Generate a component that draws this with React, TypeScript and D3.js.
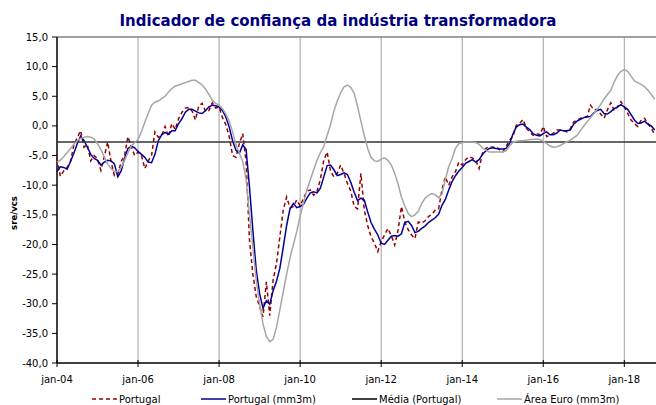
import React from "react";
import * as d3 from "d3";

const startYear = 2004;
const tickYears = [2004, 2006, 2008, 2010, 2012, 2014, 2016, 2018];
const yTicks = [15, 10, 5, 0, -5, -10, -15, -20, -25, -30, -35, -40];

const portugal = [
  -5.5, -8.5, -7.6, -7.0, -6.0, -3.2, -2.0, -0.8, -3.6, -3.2, -5.9, -5.0,
  -5.6, -7.5, -5.2, -2.7, -6.0, -8.4, -8.2, -6.0, -5.0, -1.8, -3.5, -5.0,
  -4.4, -5.0, -7.2, -5.9, -5.0, -1.0, -1.9, -1.6, -0.1, -1.8, 0.4, -0.6,
  1.2, 2.3, 3.0, 3.1, 2.5, 1.0, 3.4, 3.8, 2.4, 2.6, 3.9, 3.0,
  3.2, 1.4, 0.2, -1.8, -5.0, -5.3, -3.0, -1.3, -6.0, -19.3, -25.0, -28.8,
  -30.5, -32.2, -26.3, -32.0, -26.0, -23.2, -18.7, -14.2, -12.0, -13.8, -13.6, -12.5,
  -13.5, -12.2, -11.0, -10.8, -11.7, -11.0, -9.0, -5.8, -4.4, -7.6, -8.6, -8.0,
  -6.6, -8.0, -9.7, -11.0, -13.6, -14.0, -8.0, -14.2, -16.8, -18.7, -19.8, -21.2,
  -19.5, -18.4, -17.3, -18.5, -20.1, -17.6, -13.6, -16.2, -17.5, -18.4, -19.0, -16.2,
  -16.4, -16.0, -15.3, -14.9, -14.2, -14.0, -10.8, -8.6, -10.0, -8.6, -7.7, -6.1,
  -6.6, -5.7, -5.2, -5.4, -5.8, -7.2, -4.6, -3.8, -3.5, -3.6, -3.5, -4.0,
  -4.4, -3.5, -2.4, -1.8, 0.1, 0.4, 1.1, -0.4, -1.0, -1.6, -1.3, -1.5,
  -0.1, -1.8, -1.6, -1.2, -0.7, -0.7, -0.8, -1.0, -0.5, 0.7, 0.9, 1.3,
  1.4, 1.6, 3.5, 2.7, 2.8, 2.0, 1.3, 2.7, 3.9, 2.6, 3.2, 4.1,
  3.2, 2.1, 1.0, 0.4, -0.1, 1.0, 1.3, 0.4, -0.4, -1.5,
];

const portugalMm3m = [
  -7.7, -6.9, -7.0, -7.3, -6.0, -4.6, -3.0, -1.7, -2.5, -3.6, -4.8, -5.5,
  -5.8, -6.6, -6.1, -5.8, -5.9, -6.4, -8.6, -7.6, -5.5, -3.8, -3.4, -3.7,
  -4.3, -4.8, -5.3, -6.1, -6.2, -4.8, -2.5, -1.5, -1.1, -1.4, -0.8, -0.8,
  0.4, 1.2, 2.3, 2.8, 2.8, 2.5, 2.2, 2.1, 2.6, 3.2, 3.5, 3.4,
  3.2, 2.6, 1.5, -0.2, -2.5, -4.1, -4.6, -3.2, -4.0, -10.3, -17.6, -24.3,
  -28.3, -30.8, -29.5, -30.1, -27.8, -26.2, -24.0, -20.5, -16.8, -14.0, -13.1, -13.8,
  -13.6, -13.2, -12.2, -11.3, -11.1, -11.3, -10.5, -8.6, -6.7, -6.6, -7.4, -8.4,
  -8.2, -7.9, -8.2, -9.5, -11.2, -12.6, -12.2, -12.5, -14.5, -16.3, -17.4, -18.4,
  -19.8, -20.0, -19.3, -18.6, -18.5, -18.6, -18.2, -16.3, -16.1, -16.8, -18.0, -17.8,
  -17.3, -16.9, -16.3, -15.9, -15.5, -14.9, -13.4, -12.4, -10.8, -9.4, -8.4, -7.6,
  -7.0, -6.3, -6.0, -5.7, -6.1, -5.7, -4.8, -4.2, -3.8, -3.7, -3.8, -3.9,
  -3.9, -3.8, -3.0, -1.4, -0.2, 0.2, 0.3, -0.2, -0.6, -1.3, -1.6, -1.7,
  -1.3, -1.0, -1.5, -1.5, -1.2, -0.7, -0.8, -0.8, -0.7, 0.3, 0.8, 1.1,
  1.4, 1.5, 1.6, 2.2, 2.6, 2.8, 2.1, 2.0, 2.4, 2.9, 3.2, 3.6,
  3.2, 2.8, 1.9, 1.0, 0.4, 0.5, 0.8, 0.3, 0.0, -0.7,
];

const areaEuroMm3m = [
  -6.1, -5.8, -5.2, -4.5, -3.8, -3.1, -2.5, -2.1, -1.9, -1.8, -1.9, -2.2,
  -3.0, -4.0, -5.2, -6.4, -7.2, -7.7, -7.7, -7.0, -5.8, -4.5, -3.4, -2.8,
  -2.3, -1.0, 0.6, 2.1, 3.5, 4.0, 4.2, 4.6, 5.0, 5.7, 6.3, 6.7,
  6.9, 7.1, 7.3, 7.5, 7.7, 7.7, 7.3, 6.9, 6.2, 5.3, 4.3, 3.8,
  3.5, 2.9, 2.0, 0.8, -1.0, -3.2, -4.6, -6.0, -9.0, -15.0, -20.5, -26.0,
  -30.0, -33.4, -35.5, -36.4, -36.0, -34.0, -31.0, -28.0, -25.0, -22.3, -20.0, -17.8,
  -15.2, -13.0, -10.8, -9.1, -7.4, -5.8, -4.5, -3.5, -1.6, 0.2, 2.5, 4.2,
  5.6, 6.6, 6.9, 6.5, 5.5, 3.3, 0.8, -1.6, -3.8, -5.3, -5.9, -6.0,
  -5.6, -5.4, -5.8, -6.6, -8.0, -9.8, -12.0, -13.5, -14.8, -15.3, -15.0, -14.4,
  -13.1, -12.2, -11.7, -11.4, -11.6, -12.1, -11.5, -9.0, -6.9, -5.5, -3.8, -3.0,
  -2.8, -2.7, -2.7, -2.7, -2.8, -3.1, -3.7, -4.1, -4.4, -4.4, -4.4, -4.4,
  -4.4, -4.2, -3.4, -2.8, -2.6, -2.5, -2.5, -2.4, -2.3, -2.3, -2.2, -2.3,
  -2.6, -3.0, -3.4, -3.6, -3.5, -3.3, -3.0, -2.7, -2.4, -2.0, -1.6, -0.8,
  0.0, 0.7, 1.4, 2.1, 2.8, 3.6, 4.5, 5.3, 6.0, 7.4, 8.5, 9.2,
  9.5, 9.2, 8.4, 7.6, 7.3, 7.0, 6.6, 6.0, 5.3, 4.5,
];

const mediaPortugal = -2.7;

const legendItems = [
  { label: "Portugal", color: "#990000", dash: "4,3", x: 92 },
  { label: "Portugal (mm3m)", color: "#000099", dash: "", x: 201 },
  { label: "Média (Portugal)", color: "#000000", dash: "", x: 352 },
  { label: "Área Euro (mm3m)", color: "#A6A6A6", dash: "", x: 497 },
];

export default function App() {
  const W = 656;
  const H = 405;
  const left = 57;
  const right = 654.7;
  const top = 37;
  const bottom = 363;
  const n = portugal.length;

  const x = d3.scaleLinear().domain([0, n - 1]).range([left, right]);
  const y = d3.scaleLinear().domain([-40, 15]).range([bottom, top]);

  const line = d3
    .line<number>()
    .x((_, i) => x(i))
    .y((d) => y(d));

  const font = "'DejaVu Sans', Verdana, sans-serif";
  const monthIdx = (yr: number) => (yr - startYear) * 12;

  return (
    <svg
      width={W}
      height={H}
      style={{ position: "absolute", left: 0, top: 0, background: "#fff" }}
      fontFamily={font}
    >
      <rect x={0} y={0} width={W} height={H} fill="#fff" />
      <text
        x={338}
        y={26}
        textAnchor="middle"
        fontSize={16}
        fontWeight="bold"
        fill="#000080"
        textLength={437}
        lengthAdjust="spacingAndGlyphs"
      >
        Indicador de confiança da indústria transformadora
      </text>

      {/* vertical gridlines */}
      {tickYears.slice(1).map((yr) => (
        <line
          key={yr}
          x1={x(monthIdx(yr))}
          x2={x(monthIdx(yr))}
          y1={top}
          y2={bottom}
          stroke="#A0A0A0"
          strokeWidth={1}
        />
      ))}
      {/* top border */}
      <line x1={left} x2={W} y1={top} y2={top} stroke="#808080" strokeWidth={1.5} />

      {/* y axis */}
      <line x1={left} x2={left} y1={top} y2={bottom} stroke="#000" strokeWidth={1.5} />
      {yTicks.map((t) => (
        <g key={t}>
          <line x1={left - 5} x2={left} y1={y(t)} y2={y(t)} stroke="#000" strokeWidth={1} />
          <text
            x={48}
            y={y(t) + 3.5}
            textAnchor="end"
            fontSize={10}
            fill="#000"
          >
            {d3.format(".1f")(t).replace(".", ",").replace("−", "-")}
          </text>
        </g>
      ))}
      <text
        transform={`translate(17,213) rotate(-90)`}
        textAnchor="middle"
        fontSize={8.5}
        fontWeight="bold"
        fill="#000"
      >
        sre/vcs
      </text>

      {/* x axis */}
      <line x1={left} x2={W} y1={bottom} y2={bottom} stroke="#000" strokeWidth={1.5} />
      {tickYears.map((yr) => (
        <g key={yr}>
          <line
            x1={x(monthIdx(yr))}
            x2={x(monthIdx(yr))}
            y1={bottom - 3}
            y2={bottom + 4}
            stroke="#000"
            strokeWidth={1}
          />
          <text x={x(monthIdx(yr))} y={383} textAnchor="middle" fontSize={10} fill="#000">
            {`jan-${String(yr % 100).padStart(2, "0")}`}
          </text>
        </g>
      ))}

      {/* series */}
      <path d={line(portugal) || ""} fill="none" stroke="#990000" strokeWidth={1.5} strokeDasharray="4,3" />
      <path d={line(portugalMm3m) || ""} fill="none" stroke="#000099" strokeWidth={1.5} />
      <line
        x1={left}
        x2={W}
        y1={y(mediaPortugal)}
        y2={y(mediaPortugal)}
        stroke="#333"
        strokeWidth={1.5}
      />
      <path d={line(areaEuroMm3m) || ""} fill="none" stroke="#A6A6A6" strokeWidth={1.5} />

      {/* legend */}
      {legendItems.map((it) => (
        <g key={it.label}>
          <line
            x1={it.x}
            x2={it.x + 25}
            y1={399}
            y2={399}
            stroke={it.color}
            strokeWidth={1.5}
            strokeDasharray={it.dash || undefined}
          />
          <text x={it.x + 27} y={402.5} fontSize={10} fill="#000">
            {it.label}
          </text>
        </g>
      ))}
    </svg>
  );
}
